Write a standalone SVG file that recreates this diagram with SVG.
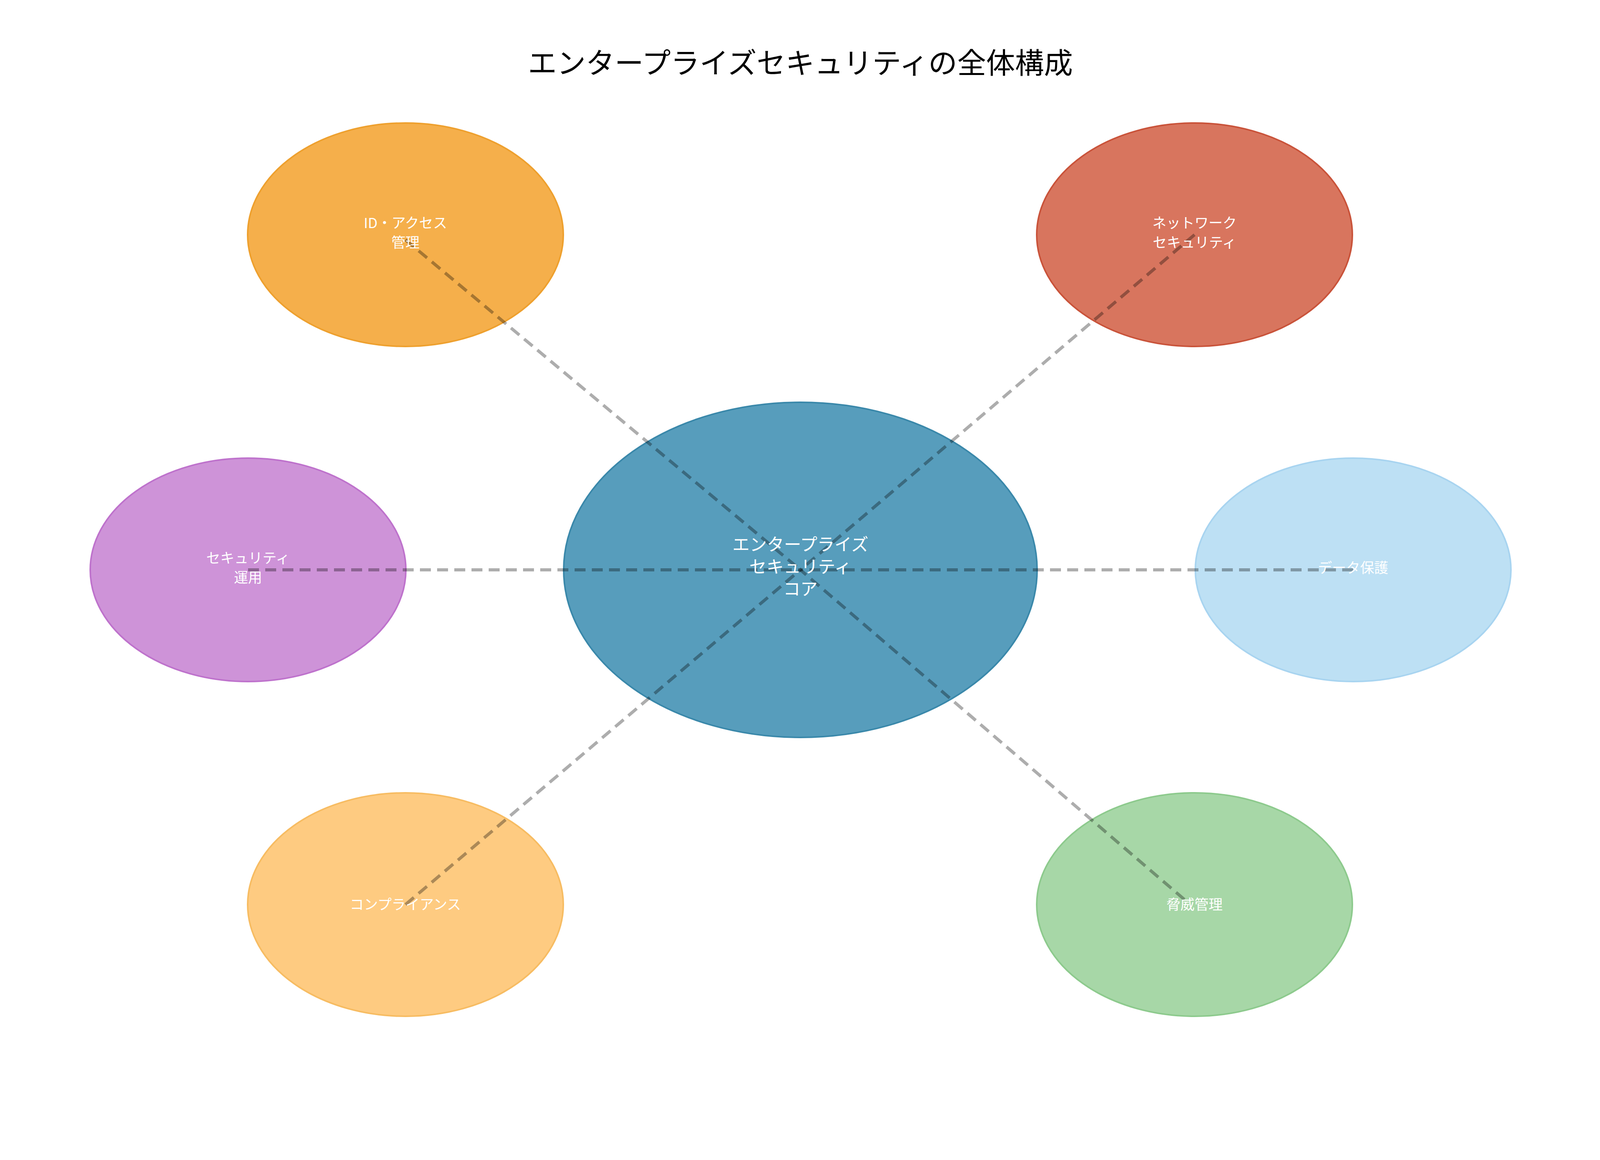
<svg xmlns="http://www.w3.org/2000/svg" width="4170" height="2970" viewBox="0 0 4170 2970">
<style>
text{font-family:"Noto Sans CJK JP","Noto Sans",sans-serif;text-anchor:middle;fill:#fff}
.t{fill:#000;font-size:74px}
.n{font-size:36px}
.c{font-size:44px}
.e{stroke-width:4}
.l{stroke:#000;stroke-opacity:0.32;stroke-width:8;stroke-dasharray:28 16;fill:none}
</style>
<rect width="4170" height="2970" fill="#fff"/>
<text class="t" x="2049" y="188">エンタープライズセキュリティの全体構成</text>
<g id="n_center"><ellipse class="e" cx="2049" cy="1459" rx="606" ry="429" fill="#579DBC" stroke="#3A88AA"/></g>
<g id="n_id"><ellipse class="e" cx="1038" cy="601" rx="404" ry="286" fill="#F5AF4B" stroke="#EEA02E"/></g>
<g id="n_net"><ellipse class="e" cx="3058" cy="601" rx="404" ry="286" fill="#D8755E" stroke="#C9533A"/></g>
<g id="n_ops"><ellipse class="e" cx="635" cy="1459" rx="404" ry="286" fill="#CE93D8" stroke="#BE72CC"/></g>
<g id="n_data"><ellipse class="e" cx="3464" cy="1459" rx="404" ry="286" fill="#BDE0F4" stroke="#A8D4F0"/></g>
<g id="n_comp"><ellipse class="e" cx="1038" cy="2316" rx="404" ry="286" fill="#FECB81" stroke="#F7BC62"/></g>
<g id="n_threat"><ellipse class="e" cx="3058" cy="2316" rx="404" ry="286" fill="#A7D7A7" stroke="#8DCA8D"/></g>
<g id="connectors">
<line class="l" x1="1038" y1="614" x2="2049" y2="1459"/>
<line class="l" x1="3058" y1="601" x2="2049" y2="1459"/>
<line class="l" x1="635" y1="1459" x2="2049" y2="1459"/>
<line class="l" x1="3464" y1="1459" x2="2049" y2="1459"/>
<line class="l" x1="1038" y1="2316" x2="2049" y2="1459"/>
<line class="l" x1="3032" y1="2303" x2="2049" y2="1459"/>
</g>
<g id="labels">
<text class="c" x="2049" y="1410">エンタープライズ</text>
<text class="c" x="2049" y="1467">セキュリティ</text>
<text class="c" x="2049" y="1524">コア</text>
<text class="n" x="1038" y="584">ID・アクセス</text>
<text class="n" x="1038" y="634">管理</text>
<text class="n" x="3058" y="584">ネットワーク</text>
<text class="n" x="3058" y="634">セキュリティ</text>
<text class="n" x="635" y="1442">セキュリティ</text>
<text class="n" x="635" y="1492">運用</text>
<text class="n" x="3464" y="1467">データ保護</text>
<text class="n" x="1038" y="2329">コンプライアンス</text>
<text class="n" x="3058" y="2329">脅威管理</text>
</g>
</svg>
